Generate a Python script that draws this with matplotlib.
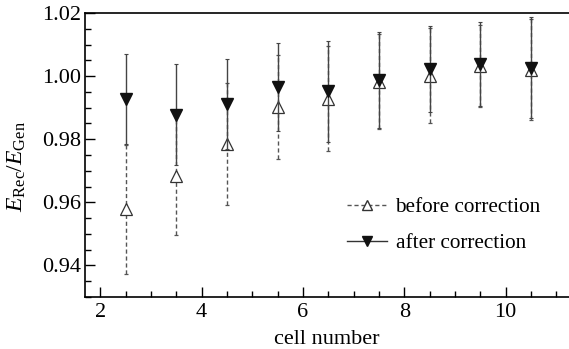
import matplotlib
matplotlib.use("Agg")
import matplotlib.pyplot as plt
from matplotlib.ticker import MultipleLocator, FormatStrFormatter
from matplotlib.lines import Line2D

plt.rcParams['font.family'] = ['Liberation Serif', 'DejaVu Serif']
plt.rcParams['mathtext.fontset'] = 'custom'
plt.rcParams['mathtext.rm'] = 'Liberation Serif'
plt.rcParams['mathtext.it'] = 'Liberation Serif:italic'

cells = [2.5, 3.5, 4.5, 5.5, 6.5, 7.5, 8.5, 9.5, 10.5]
before = [0.9578, 0.9682, 0.9786, 0.9902, 0.9928, 0.9982, 1.0001, 1.0033, 1.0020]
before_err = [0.0205, 0.0187, 0.0193, 0.0166, 0.0166, 0.0150, 0.0150, 0.0130, 0.0160]
after = [0.9928, 0.9878, 0.9912, 0.9966, 0.9952, 0.9988, 1.0022, 1.0039, 1.0026]
after_err = [0.0142, 0.0160, 0.0143, 0.0140, 0.0160, 0.0152, 0.0136, 0.0134, 0.0160]

fig = plt.figure(figsize=(5.69, 3.49), dpi=100)
ax = fig.add_axes([0.1494, 0.149, 0.8506, 0.8138])

eb1 = ax.errorbar(cells, before, yerr=before_err, fmt='^', mfc='white', mec='#333333',
                  ms=8.5, mew=0.9, ecolor='#555555', elinewidth=1.0, capsize=1.5,
                  capthick=0.8, label='before correction', zorder=3)
eb1[2][0].set_linestyle((0, (3, 2)))
eb2 = ax.errorbar(cells, after, yerr=after_err, fmt='v', mfc='#111111', mec='#111111',
                  ms=8.5, ecolor='#444444', elinewidth=1.0, capsize=1.5,
                  capthick=0.8, label='after correction', zorder=4)

ax.set_xlim(1.7, 11.25)
ax.set_ylim(0.930, 1.020)
ax.xaxis.set_major_locator(MultipleLocator(2))
ax.xaxis.set_minor_locator(MultipleLocator(0.5))
ax.yaxis.set_major_locator(MultipleLocator(0.02))
ax.yaxis.set_minor_locator(MultipleLocator(0.005))
ax.yaxis.set_major_formatter(FormatStrFormatter('%.2f'))
ax.tick_params(which='both', direction='in', labelsize=16, width=1.0)
ax.tick_params(which='major', length=7)
ax.tick_params(which='minor', length=4)
ax.tick_params(axis='x', pad=4)
ax.tick_params(axis='y', pad=3)
ax.spines['right'].set_visible(False)
for s in ['left', 'bottom', 'top']:
    ax.spines[s].set_linewidth(1.2)

ax.set_xlabel('cell number', fontsize=16, labelpad=6)
ax.set_ylabel(r'$E_{\rm Rec}/E_{\rm Gen}$', fontsize=17)
ax.yaxis.set_label_coords(-0.118, 0.46)

h1 = Line2D([], [], color='#555555', ls=(0, (3, 2)), lw=1.0, marker='^', mfc='white',
            mec='#333333', ms=7)
h2 = Line2D([], [], color='#333333', ls='-', lw=1.0, marker='v', mfc='#111111',
            mec='#111111', ms=7)
ax.legend([h1, h2], ['before correction', 'after correction'], loc='upper left',
          bbox_to_anchor=(0.523, 0.38), frameon=False, fontsize=15.3, handlelength=1.9,
          handletextpad=0.4, labelspacing=0.75, borderaxespad=0)

fig.savefig('out.png', dpi=100)
